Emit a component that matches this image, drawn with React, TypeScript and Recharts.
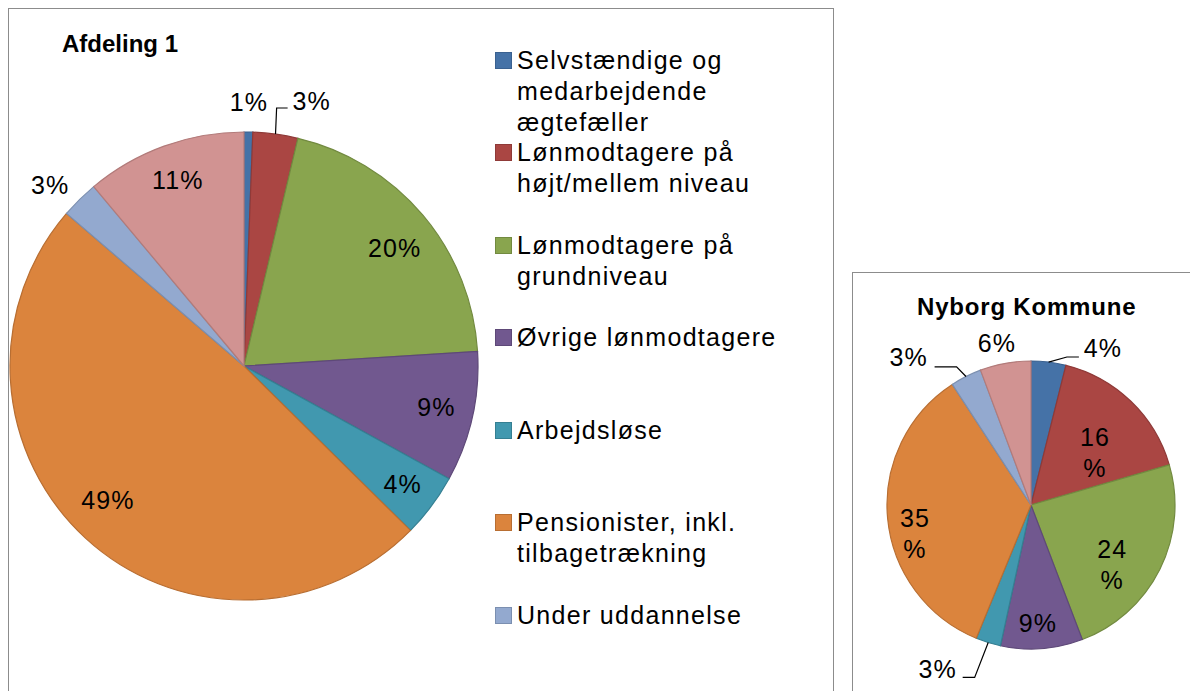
import { PieChart, Pie, Cell, Legend } from "recharts";

const CATEGORIES = [
  "Selvstændige og medarbejdende ægtefæller",
  "Lønmodtagere på højt/mellem niveau",
  "Lønmodtagere på grundniveau",
  "Øvrige lønmodtagere",
  "Arbejdsløse",
  "Pensionister, inkl. tilbagetrækning",
  "Under uddannelse",
  "Øvrige uden for arbejdsstyrken",
];

// the legend box in the source only has room for the first seven entries
const LEGEND_COUNT = 7;

const AFDELING_VALUES = [0.6, 3.1, 20.3, 9.0, 4.4, 48.9, 2.6, 11.1];
const AFDELING_LABELS = ["1%", "3%", "20%", "9%", "4%", "49%", "3%", "11%"];

const NYBORG_VALUES = [3.9, 16.6, 23.7, 9.2, 2.8, 34.6, 3.5, 5.7];
const NYBORG_LABELS = ["4%", "16 %", "24 %", "9%", "3%", "35 %", "3%", "6%"];

const COLORS = ["#4572A7", "#AA4643", "#89A54E", "#71588F", "#4198AF", "#DB843D", "#93A9CF", "#D19392"];
const STROKES = ["#3A6190", "#8F3A38", "#728A40", "#5E4978", "#357F92", "#B86E32", "#7B8FB0", "#B27B7A"];

const FONT = '"Liberation Sans", Arial, sans-serif';
const RAD = Math.PI / 180;

type LabelPos = {
  r: number;
  dx: number;
  dy: number;
  wrap?: boolean;
  leader?: [number, number][];
};

// label placement (radius factor + nudges), like Excel's best-fit
const AFDELING_LABEL_POS: LabelPos[] = [
  { r: 1.13, dx: 0, dy: 0 },
  { r: 1.13, dx: 32, dy: -3, leader: [[-35, 7], [-24, 7]] },
  { r: 0.82, dx: 4, dy: 6 },
  { r: 0.83, dx: 3, dy: -1 },
  { r: 0.84, dx: 1, dy: 0 },
  { r: 0.82, dx: -6, dy: -7 },
  { r: 1.13, dx: -8, dy: 7 },
  { r: 0.84, dx: 1, dy: -1 },
];

const NYBORG_LABEL_POS: LabelPos[] = [
  { r: 1.13, dx: 52, dy: 4.5, leader: [[-36, 9], [-24, 9]] },
  { r: 0.6, dx: 4, dy: 10, wrap: true },
  { r: 0.7, dx: -9, dy: 15, wrap: true },
  { r: 0.82, dx: -2, dy: 0 },
  { r: 1.13, dx: -45, dy: 9, leader: [[37, 8], [25, 8]] },
  { r: 0.82, dx: 1.5, dy: 17, wrap: true },
  { r: 1.13, dx: -49, dy: -3, leader: [[48, 10], [26, 10]] },
  { r: 1.13, dx: -5, dy: -2 },
];

const afdelingData = CATEGORIES.map((name, i) => ({ name, value: AFDELING_VALUES[i] }));
const nyborgData = CATEGORIES.map((name, i) => ({ name, value: NYBORG_VALUES[i] }));

function makeLabel(labels: string[], layout: LabelPos[]) {
  return (props: any) => {
    const { cx, cy, midAngle, outerRadius, index } = props;
    const pos = layout[index];
    const a = -midAngle * RAD;
    const r = outerRadius * pos.r;
    const tx = cx + r * Math.cos(a) + pos.dx;
    const ty = cy + r * Math.sin(a) + pos.dy;
    const lines = pos.wrap ? labels[index].split(" ") : [labels[index]];
    let leader = null;
    if (pos.leader) {
      const ex = cx + outerRadius * Math.cos(a);
      const ey = cy + outerRadius * Math.sin(a);
      const [p1, p2] = pos.leader;
      leader = (
        <path
          d={`M${ex},${ey}L${tx + p1[0]},${ty + p1[1]}L${tx + p2[0]},${ty + p2[1]}`}
          stroke="#000"
          strokeWidth={1.2}
          fill="none"
        />
      );
    }
    return (
      <g key={`lbl-${index}`}>
        {leader}
        {lines.map((t, k) => (
          <text
            key={k}
            x={tx}
            y={ty + (k - (lines.length - 1) / 2) * 31}
            textAnchor="middle"
            dominantBaseline="central"
            fill="#000"
            style={{ fontFamily: FONT, fontSize: 25, letterSpacing: 1.1 }}
          >
            {t}
          </text>
        ))}
      </g>
    );
  };
}

// recharts sorts the pie legend payload, so keep the category order ourselves
function renderLegend() {
  return (
    <div style={{ position: "relative", width: 330, height: 680 }}>
      {CATEGORIES.slice(0, LEGEND_COUNT).map((name, i) => (
        <div
          key={name}
          style={{
            position: "absolute",
            left: 0,
            top: 35.5 + i * 92.5,
            width: 330,
            fontFamily: FONT,
            fontSize: 25,
            lineHeight: "31px",
            letterSpacing: 1.3,
            color: "#000",
          }}
        >
          <span
            style={{
              position: "absolute",
              left: 8,
              top: 7,
              width: 15,
              height: 15,
              background: COLORS[i],
              border: `1px solid ${STROKES[i]}`,
            }}
          />
          <div style={{ marginLeft: 30, width: 272 }}>{name}</div>
        </div>
      ))}
    </div>
  );
}

const boxStyle = {
  position: "absolute" as const,
  border: "1px solid #8c8c8c",
  background: "#fff",
};

export default function App() {
  return (
    <div
      style={{
        position: "fixed",
        left: 0,
        top: 0,
        width: 1190,
        height: 691,
        overflow: "hidden",
        background: "#fff",
        fontFamily: FONT,
      }}
    >
      <div style={{ ...boxStyle, left: 8, top: 8, width: 824, height: 740 }}>
        <div
          style={{
            position: "absolute",
            left: 53,
            top: 23.4,
            fontSize: 24,
            lineHeight: "24px",
            fontWeight: "bold",
            whiteSpace: "nowrap",
            zIndex: 2,
          }}
        >
          Afdeling 1
        </div>
        <PieChart width={824} height={740} margin={{ top: 0, right: 0, bottom: 0, left: 0 }}>
          <Pie
            data={afdelingData}
            dataKey="value"
            nameKey="name"
            cx={235}
            cy={357}
            outerRadius={234}
            startAngle={90}
            endAngle={-270}
            isAnimationActive={false}
            labelLine={false}
            label={makeLabel(AFDELING_LABELS, AFDELING_LABEL_POS)}
          >
            {afdelingData.map((d, i) => (
              <Cell key={d.name} fill={COLORS[i]} stroke={STROKES[i]} strokeWidth={1.2} />
            ))}
          </Pie>
          <Legend
            layout="vertical"
            verticalAlign="top"
            align="right"
            content={renderLegend}
            wrapperStyle={{ left: 478, top: 0, width: 330 }}
          />
        </PieChart>
      </div>

      <div style={{ ...boxStyle, left: 852, top: 272, width: 400, height: 460 }}>
        <div
          style={{
            position: "absolute",
            left: 173.7,
            top: 21.7,
            transform: "translateX(-50%)",
            fontSize: 24,
            lineHeight: "24px",
            fontWeight: "bold",
            letterSpacing: 0.8,
            whiteSpace: "nowrap",
            zIndex: 2,
          }}
        >
          Nyborg Kommune
        </div>
        <PieChart width={400} height={460} margin={{ top: 0, right: 0, bottom: 0, left: 0 }}>
          <Pie
            data={nyborgData}
            dataKey="value"
            nameKey="name"
            cx={178}
            cy={232}
            outerRadius={144}
            startAngle={90}
            endAngle={-270}
            isAnimationActive={false}
            labelLine={false}
            label={makeLabel(NYBORG_LABELS, NYBORG_LABEL_POS)}
          >
            {nyborgData.map((d, i) => (
              <Cell key={d.name} fill={COLORS[i]} stroke={STROKES[i]} strokeWidth={1.2} />
            ))}
          </Pie>
        </PieChart>
      </div>
    </div>
  );
}
